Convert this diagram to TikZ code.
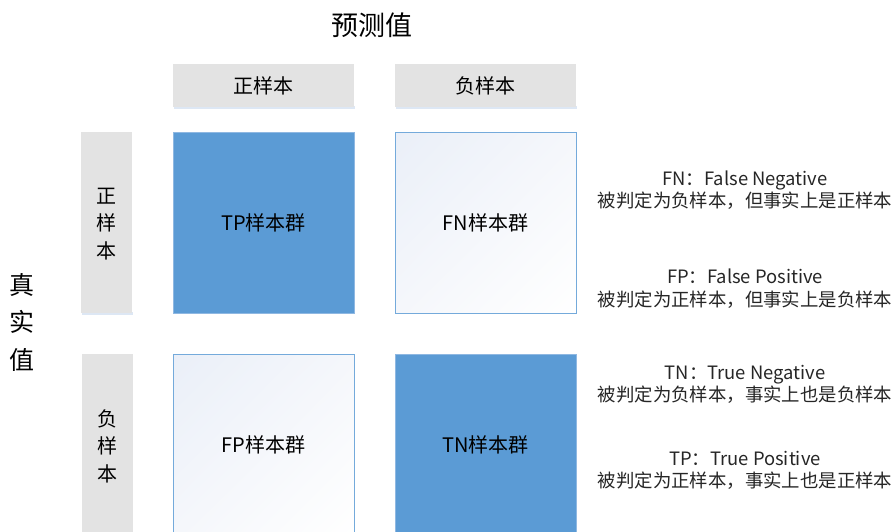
\documentclass[tikz,border=0pt]{standalone}
\usepackage{fontspec}
\setmainfont{Noto Sans CJK SC}
\usetikzlibrary{shadings}
\definecolor{cblue}{HTML}{5B9BD5}
\definecolor{cblueedge}{HTML}{8FB8E2}
\definecolor{cgray}{HTML}{E3E3E3}
\definecolor{cshadow}{HTML}{DDE7F4}
\definecolor{cgradA}{HTML}{EAEFF8}
\definecolor{cgradB}{HTML}{F5F7FB}
\definecolor{cnote}{HTML}{262626}
\tikzset{
  box/.style={rectangle, inner sep=0pt, outer sep=0pt, line width=0.8pt},
  cellblue/.style={box, fill=cblue, draw=cblueedge, minimum width=181pt, minimum height=181pt, font=\fontsize{20}{24}\selectfont},
  cellwhite/.style={box, shade, upper left=cgradA, upper right=cgradB, lower left=cgradB, lower right=white, draw=cblue!85, minimum width=181pt, minimum height=181pt, font=\fontsize{20}{24}\selectfont},
  hdr/.style={box, fill=cgray, minimum width=181pt, minimum height=43pt, font=\fontsize{20}{24}\selectfont},
  rowhdr/.style={box, fill=cgray, minimum width=51pt, minimum height=181pt},
  rowtext/.style={align=center, inner sep=0pt, font=\fontsize{20}{27.5}\selectfont},
  note/.style={align=center, text=cnote, inner sep=0pt, font=\fontsize{18.4}{22.5}\selectfont},
  shadowbar/.style={fill=cshadow, draw=none}
}
\begin{document}
\begin{tikzpicture}[x=1pt,y=-1pt]
\useasboundingbox (0,0) rectangle (896,531);
\clip (0,0) rectangle (896,531);
\fill[white] (0,0) rectangle (896,531);
% title
\node[inner sep=0pt, font=\fontsize{27}{30}\selectfont] (title) at (372,25) {预测值};
% shadows for gray header boxes
\fill[shadowbar] (174,106) rectangle (355,109);
\fill[shadowbar] (396,106) rectangle (577,109);
\fill[shadowbar] (82,312) rectangle (133,315);
% column headers
\node[hdr] (hpos) at (263.5,85.5) {正样本};
\node[hdr] (hneg) at (485.5,85.5) {负样本};
% row headers
\node[rowhdr] (rpos) at (106.5,222.5) {};
\node[rowtext] (rpostext) at (106.5,224) {正\\样\\本};
\node[rowhdr] (rneg) at (107,444.5) {};
\node[rowtext] (rnegtext) at (107,446) {负\\样\\本};
% actual label
\node[align=center, inner sep=0pt, font=\fontsize{25}{37.5}\selectfont] (actual) at (22,322) {真\\实\\值};
% cells
\node[cellblue] (tp) at (263.5,222.5) {TP样本群};
\node[cellwhite] (fn) at (485.5,222.5) {FN样本群};
\node[cellwhite] (fp) at (263.5,444.5) {FP样本群};
\node[cellblue] (tn) at (485.5,444.5) {TN样本群};
% notes
\node[note] (nfn) at (745,190) {FN：False Negative\\被判定为负样本，但事实上是正样本};
\node[note] (nfp) at (745,288.5) {FP：False Positive\\被判定为正样本，但事实上是负样本};
\node[note] (ntn) at (745,384.5) {TN：True Negative\\被判定为负样本，事实上也是负样本};
\node[note] (ntp) at (745,470.5) {TP：True Positive\\被判定为正样本，事实上也是正样本};
\end{tikzpicture}
\end{document}
